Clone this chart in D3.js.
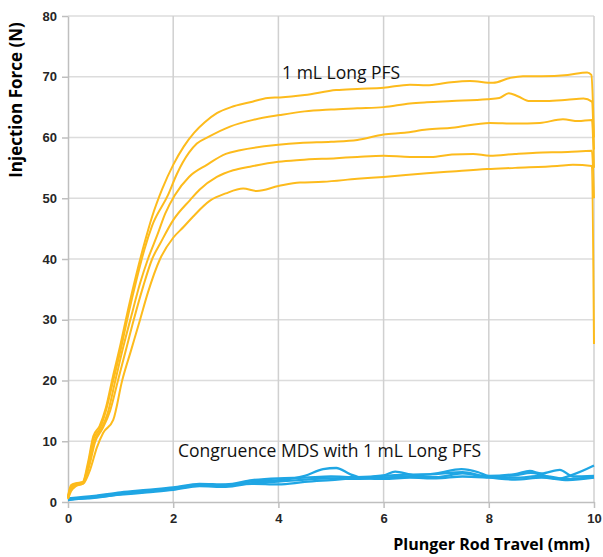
<!DOCTYPE html>
<html>
<head>
<meta charset="utf-8">
<script src="https://cdn.jsdelivr.net/npm/d3@7"></script>
<style>
  body { margin: 0; background: #fff; }
  svg { display: block; font-family: "Open Sans", "Liberation Sans", sans-serif; }
</style>
</head>
<body>
<div id="container"></div>
<script>
// Tick values for both axes
const xTicks = [0, 2, 4, 6, 8, 10];
const yTicks = [0, 10, 20, 30, 40, 50, 60, 70, 80];

// Plunger travel (mm) and force (N) pairs.
// Five 1 mL Long PFS runs, top to bottom.
const pfsRun1 = [[0,1.0],[0.06,2.8],[0.15,3.1],[0.28,3.3],[0.38,6.5],[0.48,10.8],[0.6,12.5],[0.72,15.5],[0.85,20.5],[1.0,26],[1.15,32],[1.3,37.5],[1.45,42.5],[1.6,47],[1.79,51.5],[2.0,55.5],[2.2,58.5],[2.4,60.8],[2.6,62.5],[2.83,64.0],[3.1,65],[3.46,65.8],[3.8,66.5],[4.03,66.6],[4.5,67],[5.1,67.8],[5.5,68],[6.0,68.2],[6.5,68.7],[6.82,68.6],[7.2,69],[7.64,69.3],[8.08,69],[8.4,69.8],[8.65,70.1],[9.0,70.1],[9.5,70.3],[9.87,70.7],[9.95,70.3],[10,60]];
const pfsRun2 = [[0,0.8],[0.06,2.6],[0.15,3.0],[0.28,3.2],[0.38,6],[0.48,10.3],[0.6,12],[0.72,15],[0.86,20],[1.0,25],[1.15,31],[1.3,36.5],[1.45,41.5],[1.6,45.5],[1.9,50.5],[2.07,54],[2.3,57.5],[2.45,59],[2.67,60.1],[3.08,61.8],[3.52,62.9],[4.03,63.7],[4.5,64.3],[5.0,64.6],[5.5,64.8],[6.0,65],[6.5,65.6],[6.82,65.8],[7.3,66],[7.97,66.3],[8.2,66.5],[8.38,67.3],[8.55,66.8],[8.78,66],[9.1,66],[9.49,66.2],[9.8,66.4],[9.96,65.9],[10,58]];
const pfsRun3 = [[0,0.7],[0.06,2.4],[0.15,2.9],[0.28,3.1],[0.38,5.5],[0.5,10],[0.62,11.8],[0.75,14.5],[0.9,20],[1.05,25.5],[1.2,30.5],[1.37,36],[1.52,40],[1.7,44],[1.85,47.5],[2.03,50.5],[2.3,53.5],[2.64,55.5],[3.0,57.3],[3.27,57.9],[4.0,58.8],[4.41,59.1],[5.0,59.3],[5.5,59.6],[6.0,60.5],[6.4,60.8],[6.82,61.3],[7.3,61.6],[8.02,62.4],[8.5,62.3],[8.97,62.4],[9.41,63],[9.7,62.7],[9.96,62.9],[10,55]];
const pfsRun4 = [[0,0.6],[0.06,2.2],[0.15,2.8],[0.28,3.0],[0.4,5.8],[0.52,10],[0.65,12],[0.8,15],[0.95,20],[1.1,25],[1.25,30],[1.43,35.5],[1.6,40],[1.75,42.5],[2.0,46.4],[2.32,49.7],[2.5,51.4],[2.83,53.5],[3.14,54.6],[3.46,55.2],[4.0,56],[4.41,56.3],[5.1,56.6],[5.5,56.8],[6.0,57],[6.5,56.8],[6.9,56.8],[7.3,57.2],[7.7,57.3],[8.02,57],[8.5,57.3],[8.9,57.5],[9.5,57.6],[9.96,57.8],[10,50]];
const pfsRun5 = [[0,0.5],[0.06,1.8],[0.15,2.6],[0.3,3.1],[0.42,5.3],[0.55,9],[0.67,11.4],[0.86,13.5],[1.03,20],[1.2,25],[1.37,30],[1.52,34.5],[1.75,40],[2.0,43.5],[2.2,45.3],[2.38,47],[2.7,49.6],[3.0,50.8],[3.33,51.6],[3.59,51.2],[4.0,52],[4.41,52.6],[4.85,52.7],[5.5,53.2],[6.0,53.5],[6.82,54.1],[7.3,54.4],[7.97,54.8],[8.5,55],[9.3,55.3],[9.6,55.5],[9.96,55.3],[10,26]];

// Congruence MDS with 1 mL Long PFS runs
const mdsRun1 = [[0,0.4],[0.5,0.9],[1.0,1.4],[1.5,1.8],[2.0,2.3],[2.5,2.8],[3.0,2.7],[3.5,3.4],[4.0,3.6],[4.5,4.3],[4.85,5.4],[5.1,5.6],[5.36,4.6],[5.6,4.0],[6.0,4.3],[6.5,4.5],[7.0,4.6],[7.5,4.9],[8.0,4.2],[8.5,4.4],[8.8,4.8],[9.0,4.5],[9.3,3.8],[9.6,4.5],[10,6.0]];
const mdsRun2 = [[0,0.6],[0.5,1.0],[1.0,1.6],[1.5,2.0],[2.0,2.4],[2.5,3.0],[3.0,2.9],[3.5,3.6],[4.0,3.9],[4.5,4.0],[5.0,4.2],[5.5,4.1],[6.0,4.4],[6.22,5.0],[6.6,4.4],[7.0,4.7],[7.48,5.4],[7.8,4.9],[8.0,4.3],[8.5,4.6],[8.78,5.1],[9.0,4.7],[9.35,5.3],[9.6,4.2],[10,4.3]];
const mdsRun3 = [[0,0.3],[0.5,0.8],[1.0,1.2],[1.5,1.6],[2.0,2.0],[2.5,2.6],[3.0,2.5],[3.5,3.1],[4.0,3.35],[4.5,3.7],[5.0,3.9],[5.5,3.8],[6.0,4.0],[6.5,4.2],[7.0,4.1],[7.5,4.7],[8.0,4.1],[8.5,4.0],[9.0,4.3],[9.5,3.8],[10,4.1]];
const mdsRun4 = [[0,0.5],[0.5,0.7],[1.0,1.3],[1.5,1.7],[2.0,2.2],[2.5,2.7],[3.0,2.8],[3.5,3.0],[4.0,2.9],[4.5,3.3],[5.0,3.6],[5.5,3.9],[6.0,3.8],[6.5,4.0],[7.0,3.9],[7.5,4.2],[8.0,4.0],[8.5,3.7],[9.0,4.0],[9.5,3.6],[10,4.0]];

const pfsRuns = [pfsRun1, pfsRun2, pfsRun3, pfsRun4, pfsRun5];
const mdsRuns = [mdsRun1, mdsRun2, mdsRun3, mdsRun4];

const width = 603;
const height = 557;
const marginTop = 16;
const marginRight = 9;
const marginBottom = 55;
const marginLeft = 68;

const x = d3.scaleLinear()
    .domain([0, 10])
    .range([marginLeft, width - marginRight]);

const y = d3.scaleLinear()
    .domain([0, 80])
    .range([height - marginBottom, marginTop]);

const svg = d3.create("svg")
    .attr("width", width)
    .attr("height", height)
    .attr("viewBox", [0, 0, width, height]);

// Gridlines
svg.append("g")
  .selectAll()
  .data(yTicks.slice(1))
  .join("line")
    .attr("x1", marginLeft)
    .attr("x2", width - marginRight)
    .attr("y1", d => y(d))
    .attr("y2", d => y(d))
    .attr("stroke", "#dcdcdc")
    .attr("stroke-width", 1.5);

svg.append("g")
  .selectAll()
  .data(xTicks.slice(1))
  .join("line")
    .attr("x1", d => x(d))
    .attr("x2", d => x(d))
    .attr("y1", marginTop)
    .attr("y2", height - marginBottom)
    .attr("stroke", "#d0d0d0")
    .attr("stroke-width", 1.5);

// Axes
svg.append("g")
    .attr("transform", `translate(0,${height - marginBottom})`)
    .call(d3.axisBottom(x).tickValues(xTicks).tickSize(6).tickPadding(6).tickSizeOuter(0))
    .call(g => g.selectAll(".domain, line").attr("stroke", "#bfbfbf").attr("stroke-width", 1.5))
    .call(g => g.selectAll("text")
        .attr("fill", "#262626")
        .attr("font-size", 13)
        .attr("font-weight", "bold"));

svg.append("g")
    .attr("transform", `translate(${marginLeft},0)`)
    .call(d3.axisLeft(y).tickValues(yTicks).tickSize(6).tickPadding(5).tickSizeOuter(0))
    .call(g => g.selectAll(".domain, line").attr("stroke", "#bfbfbf").attr("stroke-width", 1.5))
    .call(g => g.selectAll("text")
        .attr("fill", "#262626")
        .attr("font-size", 13)
        .attr("font-weight", "bold"));

// Axis titles
svg.append("text")
    .attr("transform", `translate(22,${marginTop + 84}) rotate(-90)`)
    .attr("text-anchor", "middle")
    .attr("fill", "#000")
    .attr("font-size", 17)
    .attr("font-weight", "bold")
    .text("Injection Force (N)");

svg.append("text")
    .attr("x", width - 13)
    .attr("y", height - 7)
    .attr("text-anchor", "end")
    .attr("fill", "#000")
    .attr("font-size", 16)
    .attr("font-weight", "bold")
    .text("Plunger Rod Travel (mm)");

const line = d3.line()
    .x(d => x(d[0]))
    .y(d => y(d[1]))
    .curve(d3.curveMonotoneX);

// Blue runs first, orange on top
svg.append("g")
    .attr("fill", "none")
    .attr("stroke", "#1fa6e4")
    .attr("stroke-width", 2.3)
    .attr("stroke-linejoin", "round")
  .selectAll()
  .data(mdsRuns)
  .join("path")
    .attr("d", line);

svg.append("g")
    .attr("fill", "none")
    .attr("stroke", "#fdbb1c")
    .attr("stroke-width", 2)
    .attr("stroke-linejoin", "round")
  .selectAll()
  .data(pfsRuns)
  .join("path")
    .attr("d", line);

// Series labels
svg.append("text")
    .attr("x", x(4.07))
    .attr("y", y(69.7))
    .attr("fill", "#111")
    .attr("font-size", 17.5)
    .text("1 mL Long PFS");

svg.append("text")
    .attr("x", x(2.09))
    .attr("y", y(7.4))
    .attr("fill", "#111")
    .attr("font-size", 17.5)
    .text("Congruence MDS with 1 mL Long PFS");

container.append(svg.node());
</script>
</body>
</html>
